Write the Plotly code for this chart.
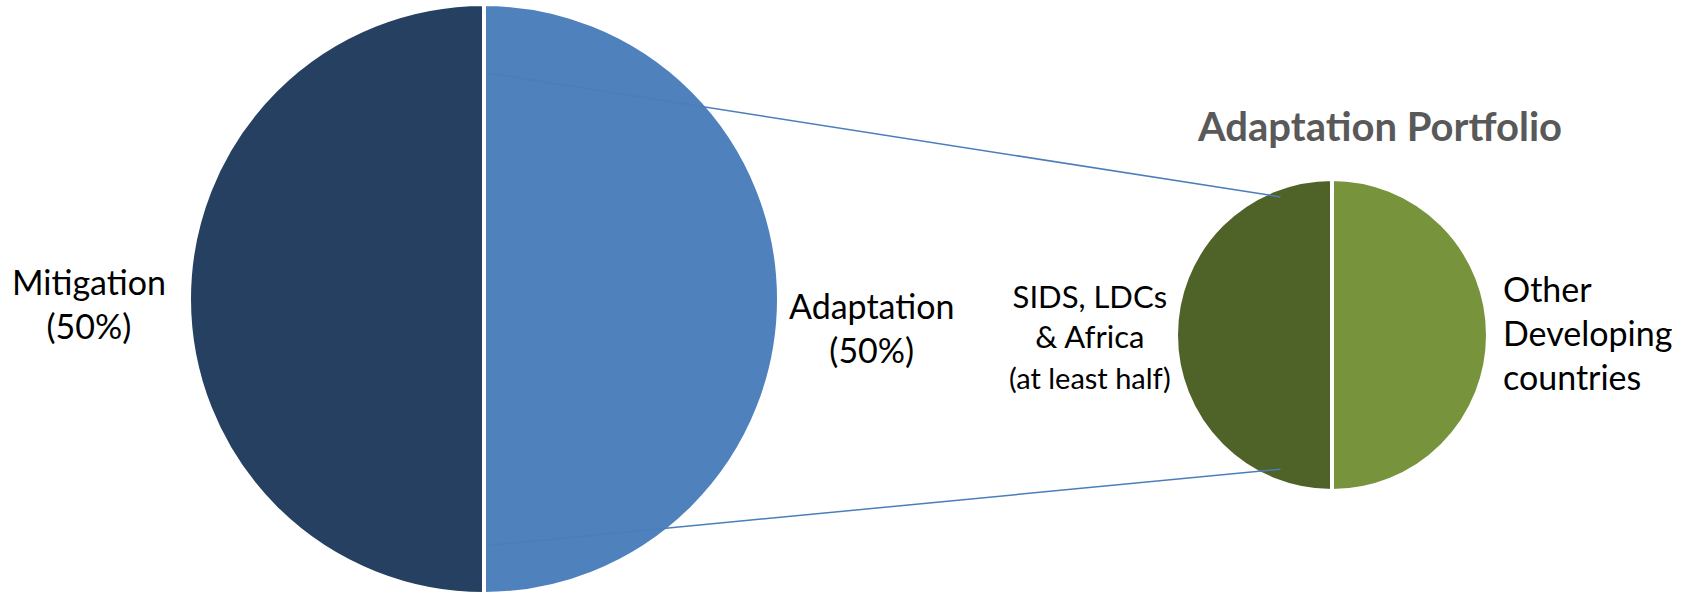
import plotly.graph_objects as go

W, H = 1684, 594

# Data
main_labels = ["Mitigation", "Adaptation"]
main_values = [50, 50]
main_colors = ["#264061", "#4F81BD"]
main_texts = ["Mitigation<br>(50%)", "Adaptation<br>(50%)"]

sub_labels = ["SIDS, LDCs & Africa", "Other Developing countries"]
sub_values = [50, 50]
sub_colors = ["#4F6228", "#77933C"]
sub_texts = ["SIDS, LDCs<br>& Africa<br><span style='font-size:29px'>(at least half)</span>",
             "Other<br>Developing<br>countries"]

title_text = "Adaptation Portfolio"

# Geometry (pixels)
big_c, big_r = (484, 299), 295
small_c, small_r = (1332, 335), 156


def domain(c, r):
    cx, cy = c
    return dict(x=[(cx - r) / W, (cx + r) / W],
                y=[(H - cy - r) / H, (H - cy + r) / H])


fig = go.Figure()
fig.add_trace(go.Pie(labels=main_labels, values=main_values, sort=False,
                     direction="clockwise", rotation=180,
                     marker=dict(colors=main_colors, line=dict(color="white", width=4)),
                     textinfo="none", hoverinfo="label+percent", showlegend=False,
                     domain=domain(big_c, big_r)))
fig.add_trace(go.Pie(labels=sub_labels, values=sub_values, sort=False,
                     direction="clockwise", rotation=180,
                     marker=dict(colors=sub_colors, line=dict(color="white", width=4)),
                     textinfo="none", hoverinfo="label+percent", showlegend=False,
                     domain=domain(small_c, small_r)))


def px(x, y):
    return x / W, 1 - y / H


# connector lines from adaptation slice to the sub pie
x0, y0 = px(big_c[0] + 5, big_c[1] - 0.765 * big_r)
x1, y1 = px(small_c[0] - 0.33 * small_r, small_c[1] - 0.885 * small_r)
x2, y2 = px(big_c[0] + 5, big_c[1] + 0.835 * big_r)
x3, y3 = px(small_c[0] - 0.33 * small_r, small_c[1] + 0.86 * small_r)
for a, b, c, d in [(x0, y0, x1, y1), (x2, y2, x3, y3)]:
    fig.add_shape(type="line", xref="paper", yref="paper", x0=a, y0=b, x1=c, y1=d,
                  line=dict(color="#4A7EBB", width=1.5), layer="above")

font = "Lato, 'Open Sans', sans-serif"
ann = [
    (main_texts[0], 89, 303, "center", 34),
    (main_texts[1], 871, 327, "center", 34),
    (sub_texts[0], 1090, 336, "center", 31),
    (sub_texts[1], 1501, 332, "left", 34),
]
for t, x, y, al, fs in ann:
    ax, ay = px(x, y)
    fig.add_annotation(text=t, x=ax, y=ay, xref="paper", yref="paper",
                       xanchor="center" if al == "center" else "left", yanchor="middle",
                       align=al, showarrow=False,
                       font=dict(family=font, size=fs, color="#000000"))

tx, ty = px(1379, 126)
fig.add_annotation(text="<b>" + title_text + "</b>", x=tx, y=ty, xref="paper", yref="paper",
                   xanchor="center", yanchor="middle", showarrow=False,
                   font=dict(family=font, size=40, color="#595959"))

fig.update_layout(width=W, height=H, margin=dict(l=0, r=0, t=0, b=0),
                  paper_bgcolor="white", plot_bgcolor="white")
fig.write_html("out.html", config={"displayModeBar": False},
               post_script="document.body.style.margin='0';document.body.style.padding='0';")
